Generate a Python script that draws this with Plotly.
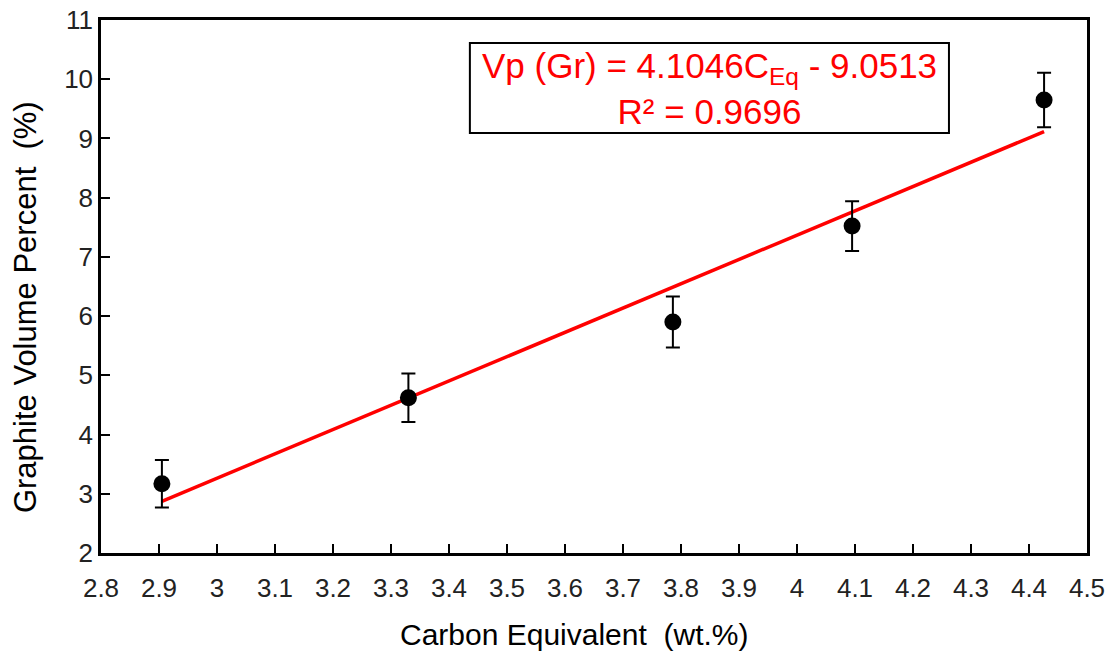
import numpy as np
import plotly.graph_objects as go

carbon_eq = [2.905, 3.33, 3.786, 4.095, 4.426]
graphite_vp = [3.17, 4.62, 5.90, 7.52, 9.65]
vp_err = [0.40, 0.41, 0.43, 0.42, 0.46]
fit_slope = 4.1046
fit_intercept = -9.0513
r_squared = 0.9696
x_ticks = [2.8, 2.9, 3.0, 3.1, 3.2, 3.3, 3.4, 3.5, 3.6, 3.7, 3.8, 3.9, 4.0, 4.1, 4.2, 4.3, 4.4, 4.5]
x_tick_labels = ["2.8", "2.9", "3", "3.1", "3.2", "3.3", "3.4", "3.5", "3.6", "3.7", "3.8", "3.9", "4", "4.1", "4.2", "4.3", "4.4", "4.5"]
y_ticks = [2, 3, 4, 5, 6, 7, 8, 9, 10, 11]

font_family = "Liberation Sans, Arial, sans-serif"

fit_x = [min(carbon_eq), max(carbon_eq)]
fit_y = [fit_slope * v + fit_intercept for v in fit_x]

fig = go.Figure()
fig.add_trace(go.Scatter(
    x=fit_x, y=fit_y, mode="lines",
    line=dict(color="#ff0000", width=3.5), showlegend=False, hoverinfo="skip"))
fig.add_trace(go.Scatter(
    x=carbon_eq, y=graphite_vp, mode="markers",
    marker=dict(color="black", size=17),
    error_y=dict(type="data", array=vp_err, visible=True, color="black", thickness=2, width=7),
    showlegend=False))

fig.add_shape(type="rect", xref="x", yref="y", x0=3.436, x1=4.262, y0=9.09, y1=10.61,
              line=dict(color="black", width=2), fillcolor="white", layer="above")
fig.add_annotation(
    xref="x", yref="y", x=(3.436 + 4.262) / 2, y=(9.09 + 10.61) / 2,
    text="Vp (Gr) = 4.1046C<sub>Eq</sub> - 9.0513<br>R² = %.4f" % r_squared,
    showarrow=False, font=dict(family=font_family, size=35, color="#ff0000"),
    align="center", xanchor="center", yanchor="middle")

# axis titles as annotations (positions matched to the original)
fig.add_annotation(
    xref="paper", yref="paper", x=0.48, y=-0.152,
    text="Carbon Equivalent  (wt.%)", showarrow=False,
    font=dict(family=font_family, size=30, color="black"),
    xanchor="center", yanchor="middle")
fig.add_annotation(
    xref="paper", yref="paper", x=-0.077, y=0.4615,
    text="Graphite Volume Percent  (%)", showarrow=False, textangle=-90,
    font=dict(family=font_family, size=31, color="black"),
    xanchor="center", yanchor="middle")

fig.update_layout(
    width=1114, height=653,
    margin=dict(l=101, r=27, t=20, b=100, autoexpand=False),
    paper_bgcolor="white", plot_bgcolor="white",
    font=dict(family=font_family, size=26, color="black"),
    xaxis=dict(range=[2.8, 4.5], tickvals=x_ticks, ticktext=x_tick_labels,
               ticks="inside", ticklen=9, tickwidth=2, tickcolor="black",
               ticklabelstandoff=10, automargin=False,
               showline=True, linecolor="black", linewidth=2.5, mirror=True,
               showgrid=False, zeroline=False,
               tickfont=dict(size=26, color="#222")),
    yaxis=dict(range=[2, 11], tickvals=y_ticks, ticksuffix="\u00a0\u2009",
               ticks="inside", ticklen=9, tickwidth=2, tickcolor="black",
               automargin=False,
               showline=True, linecolor="black", linewidth=2.5, mirror=True,
               showgrid=False, zeroline=False,
               tickfont=dict(size=26, color="#222")),
)

fig.write_html("out.html")
